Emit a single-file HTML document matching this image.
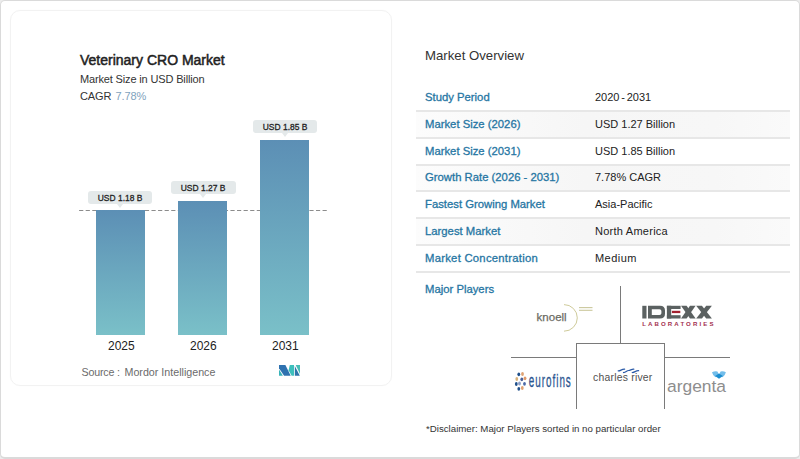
<!DOCTYPE html>
<html><head><meta charset="utf-8">
<style>
*{margin:0;padding:0;box-sizing:border-box}
html,body{width:800px;height:459px;overflow:hidden;background:#ececec}
body{position:relative;font-family:"Liberation Sans",sans-serif;color:#222}
.abs{position:absolute;white-space:nowrap;line-height:1}
.outer{position:absolute;left:0;top:0;width:800px;height:459px;background:#fff;border:1px solid #dadada;border-bottom-width:2px;border-radius:5px}
.card{position:absolute;left:10px;top:10px;width:382px;height:376px;border:1px solid #f2f2f2;border-radius:10px;box-shadow:0 0 2px rgba(0,0,0,0.02)}
.title{left:80px;top:53.2px;font-size:14px;font-weight:normal;-webkit-text-stroke:0.5px #222;color:#222}
.sub{left:80px;font-size:11px;color:#333;letter-spacing:-0.15px}
.bar{position:absolute;width:49px;background:linear-gradient(#5c8fb5,#7ac0c8)}
.lbl{position:absolute;height:13px;background:#e4e9ea;border-radius:3px;font-size:9.5px;font-weight:normal;color:#222;-webkit-text-stroke:0.3px #222;text-align:center;line-height:14px;white-space:nowrap}
.lbl:after{content:"";position:absolute;left:50%;margin-left:-3.5px;bottom:-4px;border-left:3.5px solid transparent;border-right:3.5px solid transparent;border-top:4.5px solid #e4e9ea}
.lbl span{display:inline-block;transform:scaleX(0.89);transform-origin:50% 50%}
.yr{font-size:12px;color:#222}
.ov{left:425px;font-size:13.2px;color:#333}
.k{left:425px;font-size:11.3px;color:#2676a3;-webkit-text-stroke:0.3px #2676a3}
.v{left:595px;font-size:11px;color:#222}
.rowbg{position:absolute;left:416px;width:374px;height:25px;background:linear-gradient(to right,#fcfcfc,#f6f6f6 45%,#f7f7f7 80%,#fafafa)}
.sep{position:absolute;left:416px;width:374px;height:2px;background:#e7e7e7}
</style></head><body>
<div class="outer"></div>
<div class="card"></div>

<div class="abs title">Veterinary CRO Market</div>
<div class="abs sub" style="top:74px">Market Size in USD Billion</div>
<div class="abs sub" style="top:90.5px">CAGR <span style="color:#7fa2bd;margin-left:1.5px">7.78%</span></div>

<svg style="position:absolute;left:0;top:0" width="800" height="459"><line x1="79.1" y1="210.5" x2="327.5" y2="210.5" stroke="#8c8c8c" stroke-width="1" stroke-dasharray="4.2 2.38"/></svg>
<div class="bar" style="left:96px;top:210px;height:125px"></div>
<div class="bar" style="left:178px;top:201px;height:134px"></div>
<div class="bar" style="left:260px;top:140px;height:195px"></div>

<div class="lbl" style="left:88px;top:191px;width:64px"><span>USD 1.18 B</span></div>
<div class="lbl" style="left:171px;top:181px;width:65px"><span>USD 1.27 B</span></div>
<div class="lbl" style="left:253px;top:120px;width:64px"><span>USD 1.85 B</span></div>

<div class="abs yr" style="left:108px;top:340px">2025</div>
<div class="abs yr" style="left:190px;top:340px">2026</div>
<div class="abs yr" style="left:272px;top:340px">2031</div>

<div class="abs" style="left:81.5px;top:367.3px;font-size:10.7px;color:#6b6b6b;letter-spacing:-0.2px">Source :</div><div class="abs" style="left:124.5px;top:367.3px;font-size:10.7px;color:#6b6b6b">Mordor Intelligence</div>

<!-- right -->
<div class="abs ov" style="top:49px">Market Overview</div>

<div class="abs k" style="top:92px">Study Period</div>
<div class="abs v" style="top:92px;word-spacing:-1.3px">2020 - 2031</div>
<div class="rowbg" style="top:112px"></div><div class="rowbg" style="top:166px;height:24px"></div><div class="rowbg" style="top:219px"></div>
<div class="sep" style="top:110px"></div>
<div class="abs k" style="top:119px">Market Size (2026)</div>
<div class="abs v" style="top:119px">USD 1.27 Billion</div>
<div class="sep" style="top:137px"></div>
<div class="abs k" style="top:146px">Market Size (2031)</div>
<div class="abs v" style="top:146px">USD 1.85 Billion</div>
<div class="sep" style="top:164px"></div>
<div class="abs k" style="top:172px">Growth Rate (2026 - 2031)</div>
<div class="abs v" style="top:172px">7.78% CAGR</div>
<div class="sep" style="top:190px"></div>
<div class="abs k" style="top:199px">Fastest Growing Market</div>
<div class="abs v" style="top:199px">Asia-Pacific</div>
<div class="sep" style="top:217px"></div>
<div class="abs k" style="top:226px">Largest Market</div>
<div class="abs v" style="top:226px;letter-spacing:0.25px">North America</div>
<div class="sep" style="top:244px"></div>
<div class="abs k" style="top:253px;letter-spacing:0.25px">Market Concentration</div>
<div class="abs v" style="top:253px;letter-spacing:0.45px">Medium</div>
<div class="sep" style="top:271px"></div>
<div class="abs k" style="top:284px">Major Players</div>

<div class="abs" style="left:426px;top:424px;font-size:9.7px;color:#333">*Disclaimer: Major Players sorted in no particular order</div>

<svg class="ov-svg" width="800" height="459" viewBox="0 0 800 459" style="position:absolute;left:0;top:0">

<!-- MI logo -->
<polygon points="279,365 285.4,365 290.7,375.7 284.1,375.7 279,368.3" fill="#2f72b0"/>
<polygon points="279,369.6 279,375.7 282.9,375.7" fill="#38b3b9"/>
<polygon points="289.8,365 294,365 294,375.7 291.6,375.7 288.6,370.3" fill="#3dbfbc"/>
<polygon points="294.8,365.9 294.8,375.7 299.8,375.7" fill="#2d74aa"/>
<polygon points="295.7,365 300,365 300,373.9" fill="#48bdb6"/>
<!-- lines -->
<g stroke="#7a7a7a" stroke-width="1" fill="none" shape-rendering="crispEdges">
<line x1="620.5" y1="285.5" x2="620.5" y2="343"/>
<line x1="511" y1="357.5" x2="576.5" y2="357.5"/>
<line x1="664.5" y1="357.5" x2="729.5" y2="357.5"/>
<polyline points="576.5,408.5 576.5,343.5 664.5,343.5 664.5,408.5"/>
</g>
<!-- knoell -->
<text x="536.6" y="321.2" font-family="Liberation Sans" font-size="11.5" fill="#6b6b63" stroke="#6b6b63" stroke-width="0.25">knoell</text>
<path d="M564,304.6 A13.3,13.3 0 0 1 564,331.2" stroke="#cfcb9a" stroke-width="1" fill="none"/>
<line x1="579" y1="307.6" x2="592.5" y2="307.6" stroke="#cbc89c" stroke-width="1.1"/>
<line x1="579" y1="310.3" x2="592.5" y2="310.3" stroke="#cbc89c" stroke-width="1.1"/>
<!-- IDEXX -->
<g fill="#5b6161">
<rect x="642.3" y="305.8" width="4.2" height="12.7"/>
<path d="M648,305.8 H660 Q665,305.8 665,310.5 V313.8 Q665,318.5 660,318.5 H648 Z M651.8,309.2 V315 H659.5 Q661.4,315 661.4,313.2 V311 Q661.4,309.2 659.5,309.2 Z" fill-rule="evenodd"/>
<rect x="666.9" y="305.8" width="13.7" height="3.2"/>
<rect x="666.9" y="305.8" width="4.3" height="12.7"/>
<rect x="666.9" y="315.2" width="13.7" height="3.3"/>
</g>
<rect x="671.9" y="310.8" width="8.4" height="2.3" fill="#a3202f"/>
<g fill="#5b6161">
<polygon points="681,305.8 686.6,305.8 695.6,318.5 690,318.5"/>
<polygon points="690,305.8 695.6,305.8 686.6,318.5 681,318.5"/>
<polygon points="696.2,305.8 701.9,305.8 711.9,318.5 706.2,318.5"/>
<polygon points="706.2,305.8 711.9,305.8 701.9,318.5 696.2,318.5"/>
</g>
<text x="642.2" y="326.4" font-family="Liberation Sans" font-weight="bold" font-size="6.1" letter-spacing="2.1" fill="#a3304e">LABORATORIES</text>
<!-- eurofins -->
<g>
<ellipse cx="518.8" cy="374.3" rx="1.4" ry="1.9" fill="#1f4f8a"/>
<ellipse cx="522.5" cy="374" rx="1.4" ry="1.9" fill="#e0a272"/>
<ellipse cx="516.8" cy="379" rx="1.4" ry="1.9" fill="#d9b27a"/>
<ellipse cx="525" cy="378.3" rx="1.4" ry="1.9" fill="#e09a6a"/>
<ellipse cx="521.8" cy="379.3" rx="1.4" ry="1.9" fill="#4a5f98"/>
<ellipse cx="519.5" cy="383.5" rx="1.4" ry="1.9" fill="#8ea0c8"/>
<ellipse cx="516.3" cy="384" rx="1.4" ry="1.9" fill="#1f4f8a"/>
<ellipse cx="524.5" cy="383.8" rx="1.4" ry="1.9" fill="#4a6aa8"/>
<ellipse cx="518.8" cy="388.8" rx="1.4" ry="1.9" fill="#1f4f8a"/>
<ellipse cx="522.3" cy="388" rx="1.4" ry="1.9" fill="#e0a272"/>
</g>
<text x="0" y="0" transform="translate(528.8,387.3) scale(0.515,1)" font-family="Liberation Sans" font-size="19.2" letter-spacing="1.9" fill="#2a5590" stroke="#2a5590" stroke-width="0.3">eurofins</text>
<!-- charles river -->
<text x="593.1" y="381" font-family="Liberation Sans" font-size="10.4" letter-spacing="0.22" fill="#505050">charles river</text>
<g stroke="#2a5aa8" stroke-width="1.25" fill="none" stroke-linecap="round">
<path d="M618.2,370.9 C620.5,371.1 621.6,368.9 624.6,369.1"/>
<path d="M623.5,372.5 C625.6,372.7 626.6,370.6 628.6,370.5 C630.5,370.4 631.5,368.9 633.8,369.1"/>
<path d="M632.3,372.5 C634.6,372.7 635.8,370.5 638.6,370.7"/>
</g>
<!-- argenta -->
<text x="667" y="391.5" font-family="Liberation Sans" font-size="17.4" fill="#8e8e8e">argenta</text>
<path d="M712,372.3 Q714.5,371 717.4,371.5 L719,374.6 L715.4,377.3 Q712.6,375 712,372.3 Z" fill="#72bdea"/>
<path d="M720.6,371.5 Q723.5,371 725.9,372.3 Q725.3,375 722.6,377.3 L719,374.6 Z" fill="#72bdea"/>
<polygon points="719,373.4 722.9,376.1 719,378.8 715.1,376.1" fill="#1a8dd0"/>
</svg>
</body></html>
